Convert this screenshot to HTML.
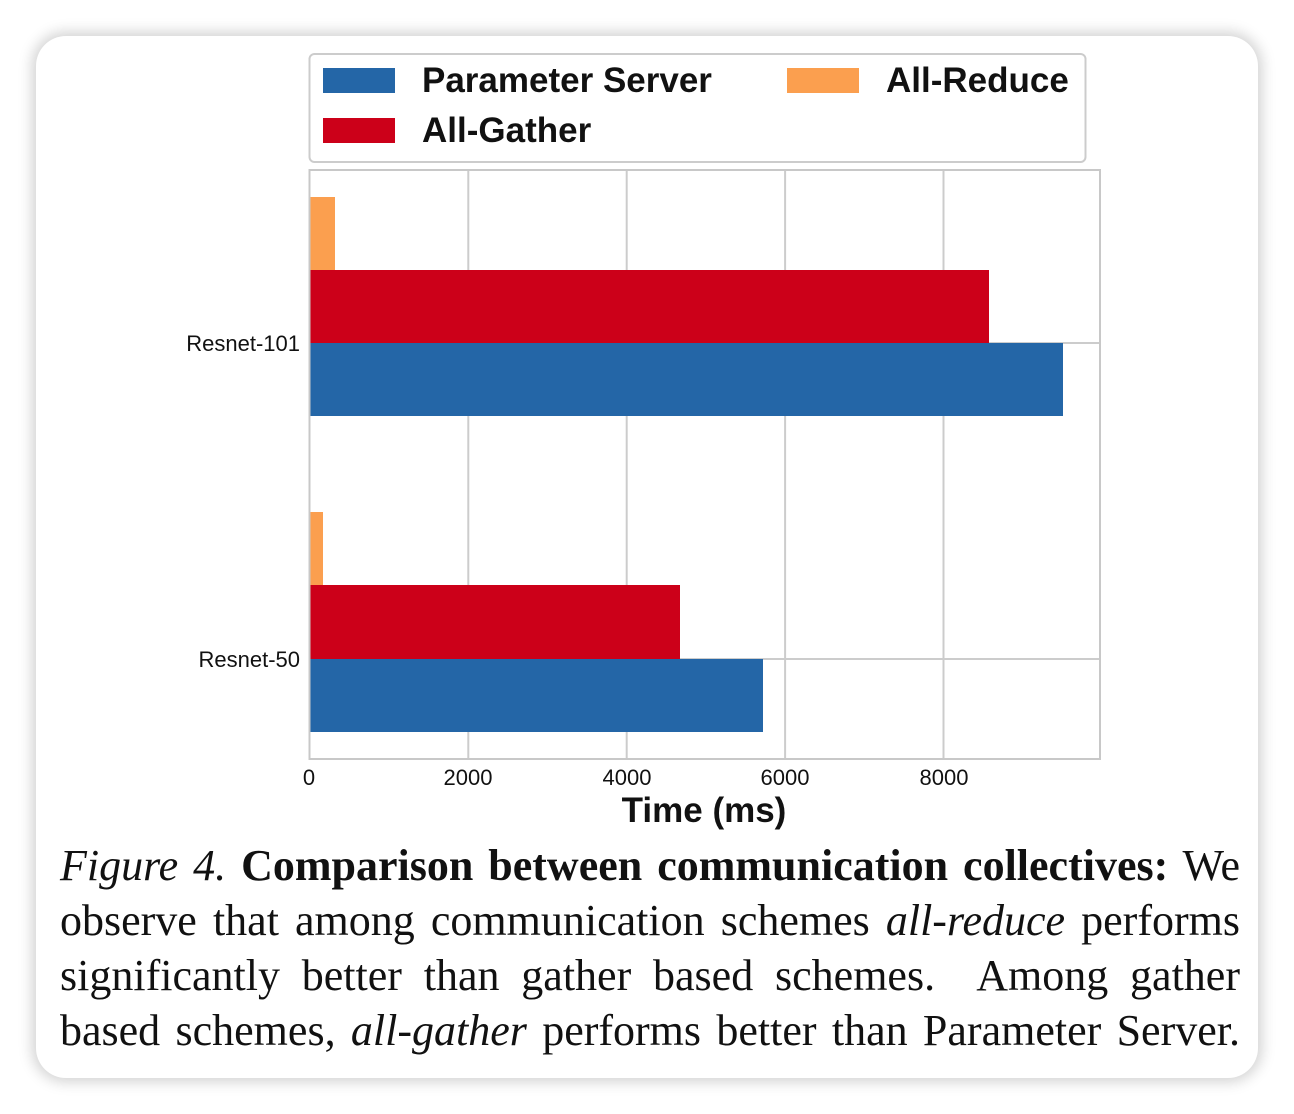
<!DOCTYPE html>
<html><head><meta charset="utf-8"><style>
html,body{margin:0;padding:0;background:#fff;}
body{width:1294px;height:1114px;position:relative;overflow:hidden;}
.card{position:absolute;left:36px;top:36px;width:1222px;height:1042px;background:#fff;border-radius:30px;box-shadow:0 0 14px 4px rgba(0,0,0,0.18);}
svg{position:absolute;left:0;top:0;}
.cap{position:absolute;left:60px;top:838px;width:1180px;font-family:"Liberation Serif",serif;font-size:44px;line-height:55px;color:#111;}
.cap div{text-align:justify;text-align-last:justify;white-space:nowrap;}
</style></head><body>
<div class="card"></div>
<svg width="1294" height="1114" font-family="Liberation Sans, sans-serif">
<rect x="309.5" y="54" width="776" height="108" rx="5" fill="#fff" stroke="#ccc" stroke-width="2"/>
<rect x="323" y="68" width="72" height="25" fill="#2466a7"/>
<text x="422" y="92" font-size="35" font-weight="bold" fill="#111">Parameter Server</text>
<rect x="787" y="68" width="72" height="25" fill="#fb9f4f"/>
<text x="886" y="92" font-size="35" font-weight="bold" fill="#111">All-Reduce</text>
<rect x="323" y="118" width="72" height="25" fill="#cc0019"/>
<text x="422" y="142" font-size="35" font-weight="bold" fill="#111">All-Gather</text>
<g stroke="#ccc" stroke-width="2">
<line x1="468.3" y1="170" x2="468.3" y2="759"/>
<line x1="626.7" y1="170" x2="626.7" y2="759"/>
<line x1="785.1" y1="170" x2="785.1" y2="759"/>
<line x1="943.5" y1="170" x2="943.5" y2="759"/>
<line x1="310" y1="343" x2="1100" y2="343"/>
<line x1="310" y1="659" x2="1100" y2="659"/>
</g>
<rect x="310" y="197" width="25" height="73" fill="#fb9f4f"/>
<rect x="310" y="270" width="679" height="73" fill="#cc0019"/>
<rect x="310" y="343" width="753" height="73" fill="#2466a7"/>
<rect x="310" y="512" width="13" height="73" fill="#fb9f4f"/>
<rect x="310" y="585" width="370" height="74" fill="#cc0019"/>
<rect x="310" y="659" width="453" height="73" fill="#2466a7"/>
<rect x="309.5" y="170" width="790.5" height="589" fill="none" stroke="#c8c8c8" stroke-width="2"/>
<g font-size="22" fill="#111">
<text x="300" y="351" text-anchor="end">Resnet-101</text>
<text x="300" y="667" text-anchor="end">Resnet-50</text>
<g text-anchor="middle">
<text x="309" y="785">0</text><text x="468" y="785">2000</text><text x="627" y="785">4000</text><text x="785" y="785">6000</text><text x="944" y="785">8000</text>
</g></g>
<text x="704" y="822" font-size="35" font-weight="bold" fill="#111" text-anchor="middle">Time (ms)</text>
</svg>
<div class="cap">
<div><i>Figure 4.</i> <b>Comparison between communication collectives:</b> We</div>
<div>observe that among communication schemes <i>all-reduce</i> performs</div>
<div>significantly better than gather based schemes.&nbsp; Among gather</div>
<div>based schemes, <i>all-gather</i> performs better than Parameter Server.</div>
</div>
</body></html>
